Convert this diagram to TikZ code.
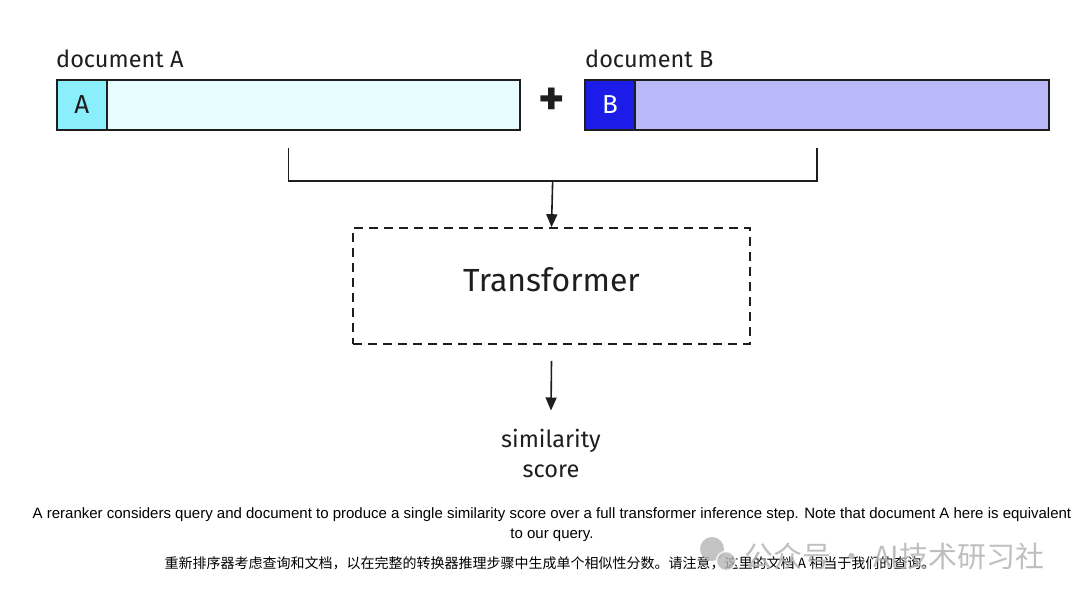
\documentclass[tikz,border=0pt]{standalone}
\usepackage{fontspec}
\setmainfont{Liberation Sans}
\newfontfamily\hand{Fira Sans}
\newfontfamily\cjk{Noto Sans CJK SC}
\usetikzlibrary{arrows.meta,calc}
\definecolor{ink}{HTML}{1E1E1E}
\definecolor{keyAcol}{HTML}{8AEEFB}
\definecolor{docAcol}{HTML}{E6FCFE}
\definecolor{keyBcol}{HTML}{1C1CE8}
\definecolor{docBcol}{HTML}{B9B9FA}
\definecolor{wm}{HTML}{B4B4B4}
\begin{document}
\begin{tikzpicture}[x=1pt,y=-1pt,
  docbox/.style={draw=ink, line width=1.8pt, minimum height=50pt, inner sep=0pt, anchor=north west},
  keybox/.style={docbox, minimum width=50pt, font=\hand\fontsize{26}{28}\selectfont},
  lbl/.style={font=\hand\fontsize{23.5}{26}\selectfont, text=ink, anchor=base west, inner sep=0pt},
  arr/.style={-{Triangle[length=13pt,width=11pt]}, line width=1.6pt, draw=ink},
  captxt/.style={font=\fontsize{15}{17}\selectfont, text=black, inner sep=0pt},
]
\useasboundingbox[fill=white] (0,0) rectangle (1080,601);

% documents
\node[docbox, fill=docAcol, minimum width=463pt] (bodyA) at (56,79) {};
\node[keybox, fill=keyAcol, text=ink] (keyA) at (56,79) {A};
\node[lbl] (labA) at (56,68) {document A};

\node[docbox, fill=docBcol, minimum width=464pt] (bodyB) at (584,79) {};
\node[keybox, fill=keyBcol, text=white] (keyB) at (584,79) {B};
\node[lbl] (labB) at (585,68) {document B};

\node[font=\hand\bfseries\fontsize{50}{50}\selectfont, text=ink, inner sep=0pt] (plus) at (552,102) {+};

% bracket
\coordinate (bl) at ($(bodyA.south)+(0,17)$);
\coordinate (br) at ($(bodyB.south)+(0,17)$);
\coordinate (join) at ($(bl)!0.5!(br)+(0,33)$);
\draw[ink, line width=1.8pt] (bl) -- ++(0,33) -| (br);

% transformer
\node[draw=ink, line width=1.6pt, dash pattern=on 9pt off 6pt, minimum width=397pt, minimum height=116pt,
      font=\hand\fontsize{32}{36}\selectfont, text=ink, text depth=12pt] (trans) at (551.5,286) {Transformer};
\draw[arr] (join) -- (trans.north);

% score
\node[font=\hand\fontsize{23.5}{30}\selectfont, text=ink, align=center, inner sep=0pt] (score) at (551,453) {similarity\\score};
\coordinate (outTop) at ($(trans.south)+(0,16)$);
\draw[arr] (outTop) -- ($(score.north)+(0,-18)$);

% captions
\node[captxt] (cap1) at (552,515) {A reranker considers query and document to produce a single similarity score over a full transformer inference step. Note that document A here is equivalent};
\node[captxt] (cap2) at (552,535) {to our query.};
\node[captxt, font=\cjk\fontsize{14}{16}\selectfont] (cap3) at (550,563) {重新排序器考虑查询和文档，以在完整的转换器推理步骤中生成单个相似性分数。请注意，这里的文档 A 相当于我们的查询。};

% watermark
\fill[wm, opacity=0.8] (712,549) circle (12pt);
\fill[wm, opacity=0.8, draw=white, line width=1.5pt] (726,561) circle (9.5pt);
\node[font=\cjk\fontsize{29}{32}\selectfont, text=wm, opacity=0.85, anchor=west, inner sep=0pt] (wmtext) at (744,556) {公众号 · AI技术研习社};
\end{tikzpicture}
\end{document}
